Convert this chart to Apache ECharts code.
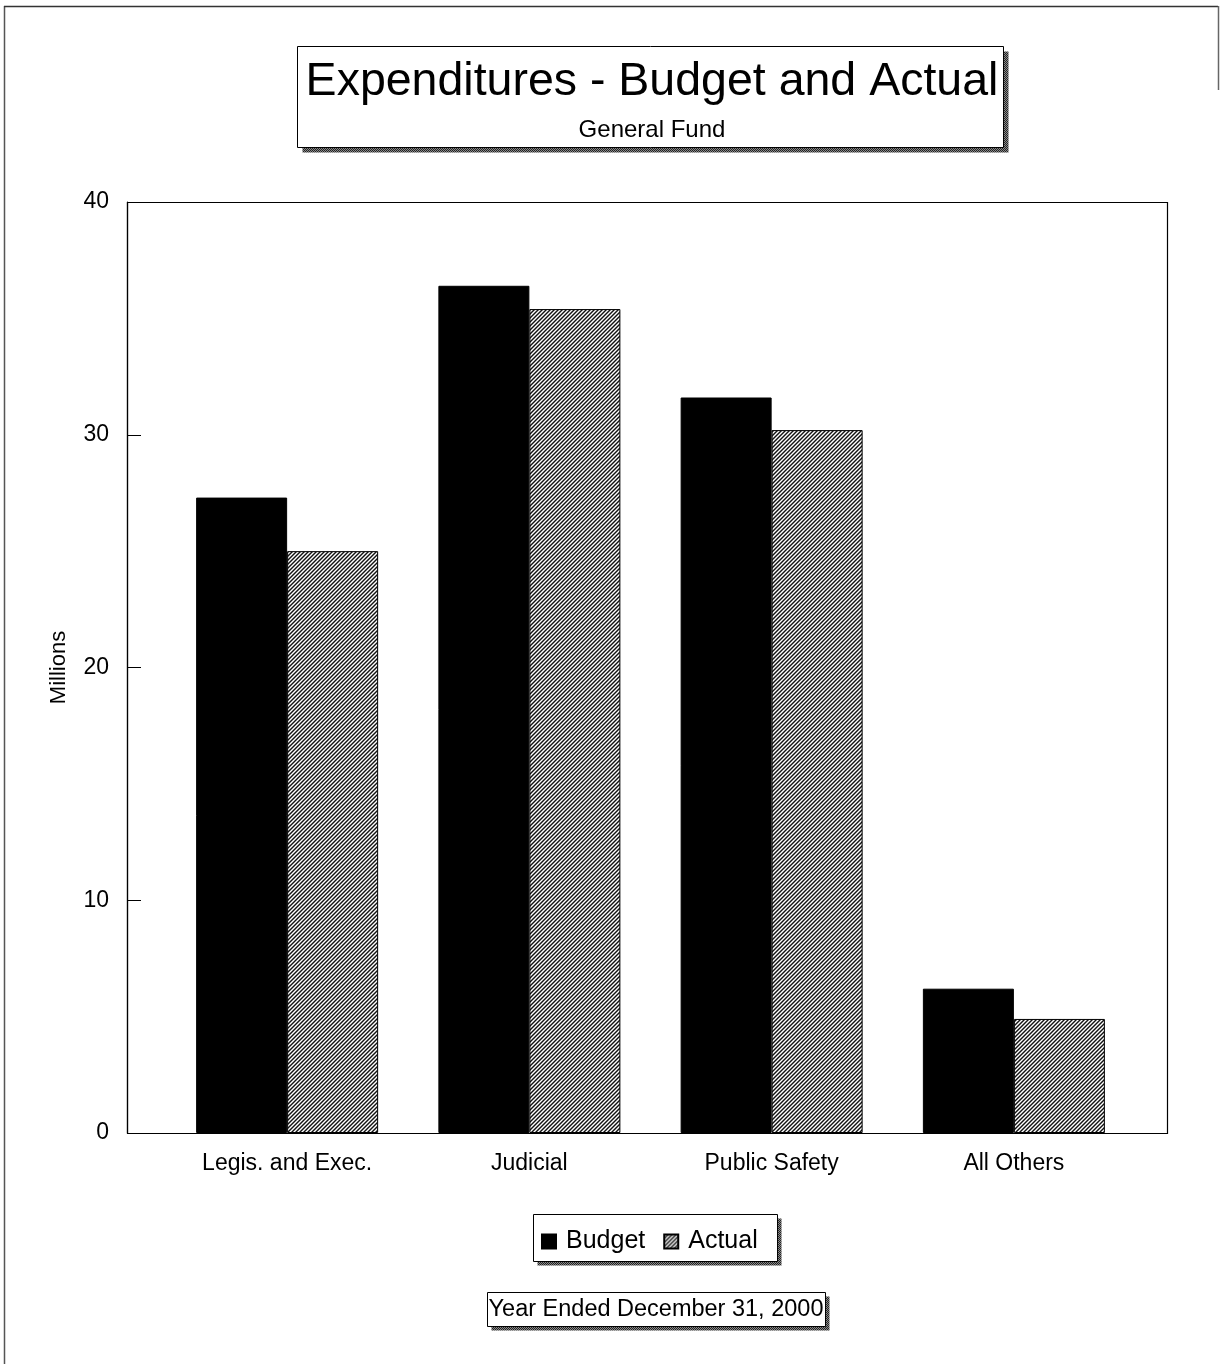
<!DOCTYPE html>
<html>
<head>
<meta charset="utf-8">
<title>Expenditures - Budget and Actual</title>
<script src="https://cdn.jsdelivr.net/npm/echarts@6/dist/echarts.min.js"></script>
<style>
  html, body { margin: 0; padding: 0; background: #fff; }
  #chart { width: 1222px; height: 1364px; }
</style>
</head>
<body>
<div id="chart"></div>
<script>
// Expenditure categories and amounts (millions of dollars)
var categories = ['Legis. and Exec.', 'Judicial', 'Public Safety', 'All Others'];
var budgetValues = [27.3, 36.4, 31.6, 6.2];
var actualValues = [25.0, 35.4, 30.2, 4.9];
var yTicks = [0, 10, 20, 30, 40];

var FONT = '"Liberation Sans", Arial, Helvetica, sans-serif';

// Diagonal hatch tile for the "Actual" series
function makeHatch() {
  var c = document.createElement('canvas');
  c.width = 8; c.height = 8;
  var g = c.getContext('2d');
  g.fillStyle = '#fff';
  g.fillRect(0, 0, 8, 8);
  g.strokeStyle = '#111';
  g.lineWidth = 1.4;
  for (var k = -8; k <= 16; k += 4) {
    g.beginPath();
    g.moveTo(k - 1, 9);
    g.lineTo(k + 9, -1);
    g.stroke();
  }
  return c;
}
var hatch = { image: makeHatch(), repeat: 'repeat' };

// Stippled drop shadow tile used under the boxed captions
function makeStipple() {
  var c = document.createElement('canvas');
  c.width = 2; c.height = 2;
  var g = c.getContext('2d');
  g.fillStyle = '#888';
  g.fillRect(0, 0, 2, 2);
  g.fillStyle = '#222';
  g.fillRect(0, 0, 1, 1);
  g.fillRect(1, 1, 1, 1);
  return c;
}
var stipple = { image: makeStipple(), repeat: 'repeat' };

function shadowBox(x, y, w, h, d) {
  return [
    { type: 'rect', z: 1, shape: { x: x + d, y: y + d, width: w, height: h },
      style: { fill: stipple, stroke: null } },
    { type: 'rect', z: 2, shape: { x: x, y: y, width: w, height: h },
      style: { fill: '#fff', stroke: '#000', lineWidth: 1 } }
  ];
}

var chart = echarts.init(document.getElementById('chart'), null, { renderer: 'canvas' });

var graphics = []
  // page border
  .concat([
    { type: 'line', z: 0, shape: { x1: 4.5, y1: 6, x2: 4.5, y2: 1364 }, style: { stroke: '#555', lineWidth: 1.5 } },
    { type: 'line', z: 0, shape: { x1: 4, y1: 6.5, x2: 1218, y2: 6.5 }, style: { stroke: '#333', lineWidth: 1.5 } },
    { type: 'line', z: 0, shape: { x1: 1218.5, y1: 6, x2: 1218.5, y2: 90 }, style: { stroke: '#666', lineWidth: 1.5 } }
  ])
  .concat(shadowBox(297.5, 46.5, 706, 101, 5))
  .concat(shadowBox(533.5, 1214.5, 244, 47, 4))
  .concat(shadowBox(487.5, 1292.5, 338, 34, 4))
  .concat([
    // plot frame
    { type: 'rect', z: 0, shape: { x: 127.5, y: 202.5, width: 1040, height: 931 },
      style: { fill: null, stroke: '#000', lineWidth: 1.2 } },
    { type: 'text', z: 5, style: { x: 656, y: 1310, text: 'Year Ended December 31, 2000',
      font: '23.5px ' + FONT, fill: '#000', textAlign: 'center', textVerticalAlign: 'middle' } }
  ]);

chart.setOption({
  backgroundColor: '#fff',
  animation: false,
  title: {
    text: 'Expenditures - Budget and Actual',
    subtext: 'General Fund',
    left: 647,
    textAlign: 'center',
    top: 54,
    itemGap: 12,
    z: 10,
    textStyle: { fontFamily: FONT, fontSize: 46.5, fontWeight: 'normal', color: '#000' },
    subtextStyle: { fontFamily: FONT, fontSize: 24, color: '#000' }
  },
  legend: {
    data: ['Budget', 'Actual'],
    icon: 'rect',
    left: 536,
    top: 1224,
    itemWidth: 14,
    itemHeight: 14,
    itemGap: 18,
    z: 10,
    textStyle: { fontFamily: FONT, fontSize: 25, color: '#000', padding: [0, 0, 0, 5] }
  },
  grid: { left: 166, right: 87, top: 202, bottom: 231, containLabel: false },
  xAxis: {
    type: 'category',
    data: categories,
    boundaryGap: true,
    axisLine: { show: false },
    axisTick: { show: false },
    axisLabel: { margin: 19, fontFamily: FONT, fontSize: 23, color: '#000' }
  },
  yAxis: {
    type: 'value',
    min: yTicks[0],
    max: yTicks[yTicks.length - 1],
    interval: 10,
    offset: 39,
    name: 'Millions',
    nameLocation: 'middle',
    nameGap: 57,
    nameRotate: 90,
    nameTextStyle: { fontFamily: FONT, fontSize: 22, color: '#000' },
    axisLine: { show: true, lineStyle: { color: '#000', width: 1.2 } },
    axisTick: { show: true, inside: true, length: 14, lineStyle: { color: '#000' } },
    splitLine: { show: false },
    axisLabel: { margin: 18, fontFamily: FONT, fontSize: 23, color: '#000' }
  },
  series: [
    {
      name: 'Budget',
      type: 'bar',
      data: budgetValues,
      barWidth: 91,
      barGap: '0%',
      itemStyle: { color: '#000', borderColor: '#000', borderWidth: 1 }
    },
    {
      name: 'Actual',
      type: 'bar',
      data: actualValues,
      barWidth: 91,
      barGap: '0%',
      itemStyle: { color: hatch, borderColor: '#000', borderWidth: 1 }
    }
  ],
  graphic: graphics
});
</script>
</body>
</html>
